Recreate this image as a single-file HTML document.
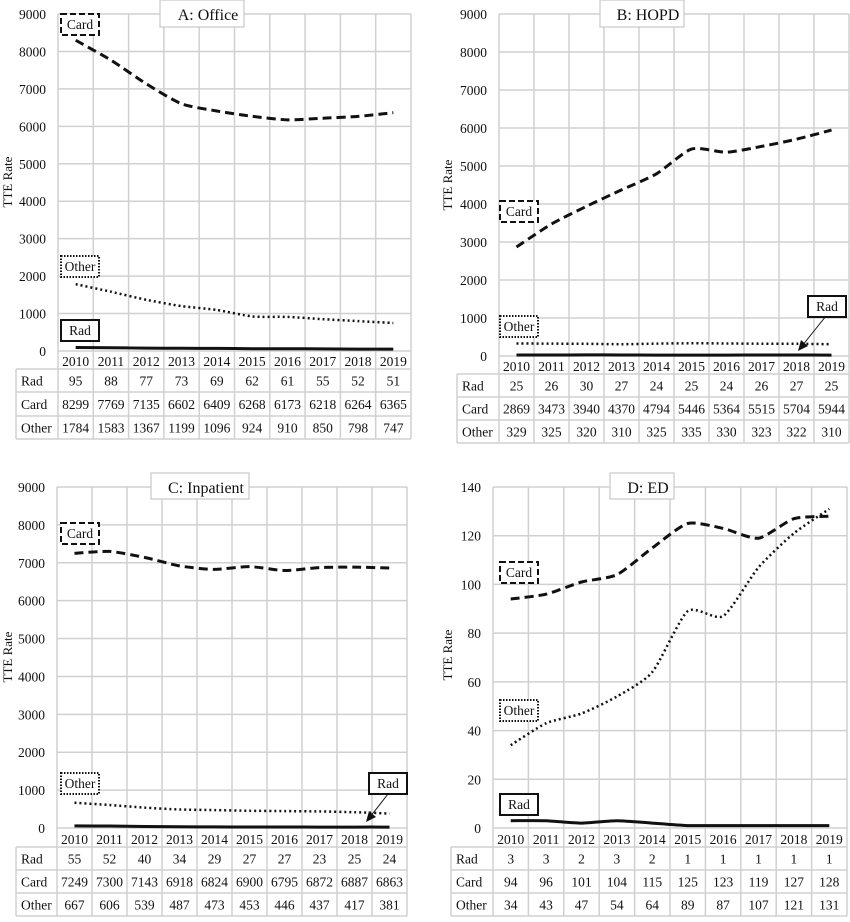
<!DOCTYPE html>
<html><head><meta charset="utf-8"><style>
body{margin:0;background:#fff}
svg text{font-family:"Liberation Serif",serif;fill:#111}
</style></head><body>
<svg id="s" xmlns="http://www.w3.org/2000/svg" width="850" height="917" viewBox="0 0 850 917"></svg>
<script>
const S=document.getElementById('s');let h='';
const P=[
{t:'A: Office',L:58,R:411,T:14,Z:351,max:9000,step:1000,tl:16,rows:[351,369,392,416,439],tb:[160,0,244,27],
 rad:[95,88,77,73,69,62,61,55,52,51],card:[8299,7769,7135,6602,6409,6268,6173,6218,6264,6365],oth:[1784,1583,1367,1199,1096,924,910,850,798,747],
 lc:[61,14],lo:[61,256],lr:[61,320],arrow:null,ay:-2,ayc:182},
{t:'B: HOPD',L:499,R:849,T:14,Z:356,max:9000,step:1000,tl:457,rows:[356,374,397,420,443],tb:[600,0,684,27],
 rad:[25,26,30,27,24,25,24,26,27,25],card:[2869,3473,3940,4370,4794,5446,5364,5515,5704,5944],oth:[329,325,320,310,325,335,330,323,322,310],
 lc:[500,201],lo:[500,316],lr:[808,296],arrow:[826,316,798,351],ay:438,ayc:185},
{t:'C: Inpatient',L:57,R:407,T:487,Z:828,max:9000,step:1000,tl:16,rows:[828,847,870,893,916],tb:[151,473,249,499],
 rad:[55,52,40,34,29,27,27,23,25,24],card:[7249,7300,7143,6918,6824,6900,6795,6872,6887,6863],oth:[667,606,539,487,473,453,446,437,417,381],
 lc:[61,523],lo:[61,773],lr:[369,773],arrow:[388,794,366,822],ay:-2,ayc:657},
{t:'D: ED',L:493,R:847,T:487,Z:828,max:140,step:20,tl:451,rows:[828,847,870,893,916],tb:[610,473,674,499],
 rad:[3,3,2,3,2,1,1,1,1,1],card:[94,96,101,104,115,125,123,119,127,128],oth:[34,43,47,54,64,89,87,107,121,131],
 lc:[500,562],lo:[500,700],lr:[500,794],arrow:null,ay:438,ayc:655}
];
function curve(pts){let d='M'+pts[0][0]+','+pts[0][1];
 for(let i=0;i<pts.length-1;i++){const p0=pts[i-1]||pts[i],p1=pts[i],p2=pts[i+1],p3=pts[i+2]||p2;
 const k=9;const c1=[p1[0]+(p2[0]-p0[0])/k,p1[1]+(p2[1]-p0[1])/k],c2=[p2[0]-(p3[0]-p1[0])/k,p2[1]-(p3[1]-p1[1])/k];
 d+=` C${c1[0].toFixed(1)},${c1[1].toFixed(1)} ${c2[0].toFixed(1)},${c2[1].toFixed(1)} ${p2[0]},${p2[1].toFixed(1)}`;}return d;}
for(const p of P){
 const cw=(p.R-p.L)/10,n=p.max/p.step,gh=(p.Z-p.T)/n;
 const g='#d0d0d0';
 for(let i=0;i<=n;i++){const y=p.T+i*gh;h+=`<line x1="${p.L}" x2="${p.R}" y1="${y}" y2="${y}" stroke="${g}" stroke-width="1.5"/>`;
  h+=`<text x="${p.L-12}" y="${y+5}" font-size="13.5" text-anchor="end">${p.max-i*p.step}</text>`;}
 for(let i=0;i<=10;i++){const x=p.L+i*cw;h+=`<line x1="${x}" x2="${x}" y1="${p.T}" y2="${p.rows[4]}" stroke="${g}" stroke-width="1.5"/>`;}
 for(let r=1;r<5;r++)h+=`<line x1="${p.tl}" x2="${p.R}" y1="${p.rows[r]}" y2="${p.rows[r]}" stroke="${g}" stroke-width="1.5"/>`;
 h+=`<line x1="${p.tl}" x2="${p.tl}" y1="${p.rows[1]}" y2="${p.rows[4]}" stroke="${g}" stroke-width="1.5"/>`;
 for(let i=0;i<10;i++){const x=p.L+(i+.5)*cw;h+=`<text x="${x}" y="${p.rows[1]-3}" font-size="13.5" text-anchor="middle">${2010+i}</text>`;
  [p.rad,p.card,p.oth].forEach((a,k)=>{h+=`<text x="${x}" y="${(p.rows[k+1]+p.rows[k+2])/2+5}" font-size="13.5" text-anchor="middle">${a[i]}</text>`;});}
 ['Rad','Card','Other'].forEach((s,k)=>{h+=`<text x="${p.tl+5}" y="${(p.rows[k+1]+p.rows[k+2])/2+5}" font-size="13.5">${s}</text>`;});
 h+=`<text transform="translate(${p.ay+14},${p.ayc}) rotate(-90)" font-size="13" text-anchor="middle">TTE Rate</text>`;
 const Y=v=>p.Z-v/p.max*(p.Z-p.T);
 const pts=a=>a.map((v,i)=>[+(p.L+(i+.5)*cw).toFixed(1),Y(v)]);
 h+=`<path d="${curve(pts(p.card))}" fill="none" stroke="#111" stroke-width="3" stroke-dasharray="9,5"/>`;
 h+=`<path d="${curve(pts(p.oth))}" fill="none" stroke="#111" stroke-width="2.5" stroke-dasharray="2,3"/>`;
 h+=`<path d="${curve(pts(p.rad))}" fill="none" stroke="#111" stroke-width="3"/>`;
 const tb=p.tb;h+=`<rect x="${tb[0]}" y="${tb[1]}" width="${tb[2]-tb[0]}" height="${tb[3]-tb[1]}" fill="#fff" stroke="#c8c8c8" stroke-width="1.2"/>`;
 h+=`<text x="${(tb[0]+tb[2])/2+6}" y="${tb[1]+20}" font-size="16" text-anchor="middle">${p.t}</text>`;
 const lab=(xy,s,da,sw)=>{h+=`<rect x="${xy[0]}" y="${xy[1]}" width="38" height="21" fill="#fff" stroke="#111" stroke-width="${sw}" ${da?`stroke-dasharray="${da}"`:''}/><text x="${xy[0]+19}" y="${xy[1]+15}" font-size="13.5" text-anchor="middle">${s}</text>`;};
 lab(p.lc,'Card','6,3',2);lab(p.lo,'Other','1.5,1.5',2);lab(p.lr,'Rad','',2);
 if(p.arrow){const a=p.arrow;h+=`<line x1="${a[0]}" y1="${a[1]}" x2="${a[2]+4}" y2="${a[3]-5}" stroke="#111" stroke-width="1"/><polygon points="${a[2]},${a[3]} ${a[2]+3},${a[3]-11} ${a[2]+10},${a[3]-5}" fill="#111"/>`;}
}
S.innerHTML=h;
</script>
</body></html>
